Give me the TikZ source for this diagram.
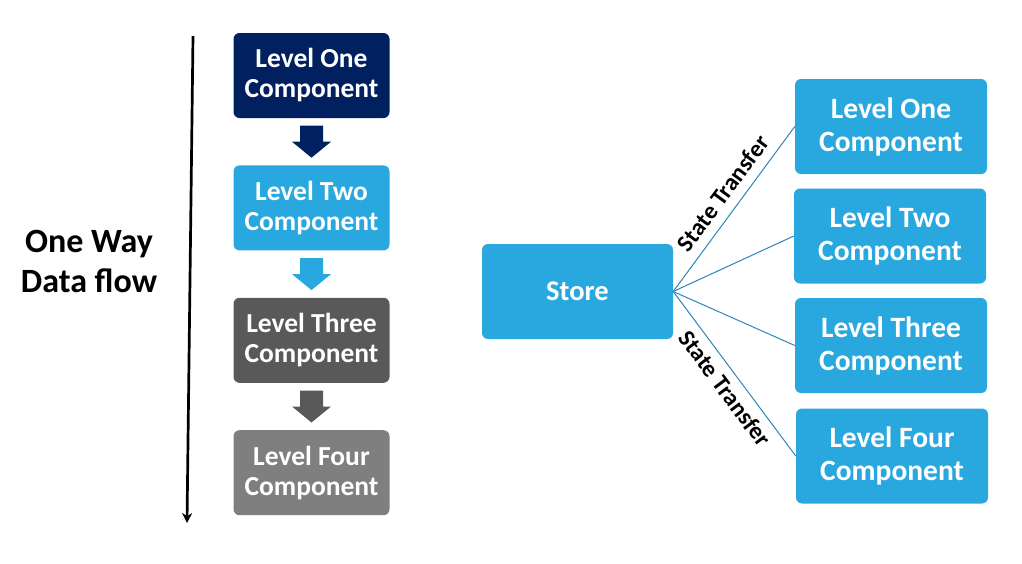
\documentclass[tikz,border=0pt]{standalone}
\usepackage{fontspec}
\setmainfont{Carlito}
\usetikzlibrary{positioning,calc,arrows.meta}
\definecolor{levelone}{RGB}{0,32,96}
\definecolor{leveltwo}{RGB}{41,168,224}
\definecolor{levelthree}{RGB}{89,89,89}
\definecolor{levelfour}{RGB}{127,127,127}
\definecolor{transfer}{RGB}{44,132,186}

\begin{document}
\begin{tikzpicture}
        [x = 1pt, y = -1pt,
            > = {Stealth[length=10pt,width=10pt]},
            node distance = 47pt,
            flow node/.style = {rectangle, rounded corners=6pt, text=white, align=center, inner sep=0pt,
                minimum width=156pt, minimum height=85pt, font=\bfseries\fontsize{27.5}{30}\selectfont},
            tree node/.style = {rectangle, rounded corners=6pt, fill=leveltwo, text=white, align=center, inner sep=0pt,
                minimum width=192pt, minimum height=95pt, font=\bfseries\fontsize{29.5}{33}\selectfont},
            transfer label/.style = {sloped, pos=0.53, text=black, font=\bfseries\fontsize{24}{26}\selectfont}]

        \useasboundingbox (0,0) rectangle (1022,563);

        % one way data flow
        \coordinate (top) at (193,36);
        \coordinate (bottom) at (187,523);
        \draw[->, line width=2.7pt] (top) -- (bottom);
        \node[font=\bfseries\fontsize{34}{40}\selectfont, align=center] (flow) at (89,261) {One Way\\Data flow};

        \node[flow node, fill=levelone] (L1) at (311.5,75.5) {Level One\\Component};
        \node[flow node, fill=leveltwo] (L2) [below=of L1] {Level Two\\Component};
        \node[flow node, fill=levelthree] (L3) [below=of L2] {Level Three\\Component};
        \node[flow node, fill=levelfour] (L4) [below=of L3] {Level Four\\Component};

        \foreach \a/\b/\c in {L1/L2/levelone, L2/L3/leveltwo, L3/L4/levelthree}
            \fill[\c] ($(\a.south)!0.5!(\b.north)$) ++(-11.5,-16) -- ++(23,0) -- ++(0,16) -- ++(8,0)
                -- ++(-19.5,16) -- ++(-19.5,-16) -- ++(8,0) -- cycle;

        % store
        \node[tree node, minimum width=191pt, font=\bfseries\fontsize{28.5}{33}\selectfont] (store) at (577.5,291.5) {Store};
        \node[tree node] (R1) at (891,126.5) {Level One\\Component};
        \node[tree node] (R2) at (890,236) {Level Two\\Component};
        \node[tree node] (R3) at (891,345.5) {Level Three\\Component};
        \node[tree node] (R4) at (892,456) {Level Four\\Component};

        \draw[transfer, line width=1pt] (store.east) -- node[transfer label, above=6pt] {State Transfer} (R1.west);
        \draw[transfer, line width=1pt] (store.east) -- (R2.west);
        \draw[transfer, line width=1pt] (store.east) -- (R3.west);
        \draw[transfer, line width=1pt] (store.east) -- node[transfer label, below=4pt] {State Transfer} (R4.west);
    \end{tikzpicture}
\end{document}
